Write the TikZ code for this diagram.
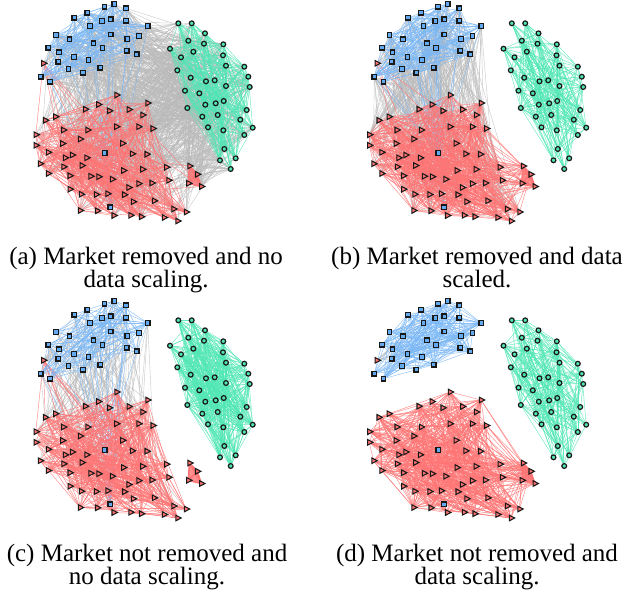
\documentclass[tikz,border=0pt]{standalone}
\usepackage{fontspec}
\setmainfont{Liberation Serif}
\usetikzlibrary{shapes.geometric}
\pgfdeclarelayer{edges}
\pgfsetlayers{edges,main}
\definecolor{bfill}{HTML}{64AAF0}
\definecolor{bedge}{HTML}{78B6F6}
\definecolor{gfill}{HTML}{4FE6B4}
\definecolor{gedge}{HTML}{4FE6B4}
\definecolor{rfill}{HTML}{FF7272}
\definecolor{redge}{HTML}{FF7474}
\definecolor{xedge}{HTML}{B9B9B9}
\def\bluelist{104.5/6.7, 114.2/4, 125.8/8.3, 74.3/17.7, 87.3/12.7, 101.8/21, 110.7/19.3, 125.8/20.7, 90/26, 147.7/26, 139/36, 56/35, 69.5/39.3, 110.7/34.5, 127.3/39, 93.5/43.3, 102.5/48, 48.3/47.7, 59/52.3, 126.7/50.7, 136.7/54.3, 74/57, 88.5/60, 58.2/61.7, 68.5/69, 82.8/72.7, 100.2/67.7, 40.7/76.7, 50/81.7, 104.7/153, 110.3/207.3}
\def\greenlist{178.3/23.3, 191.7/23.3, 205/33.3, 188.3/40.7, 204/43.7, 223.3/44.3, 170/48.7, 193.3/51.7, 223/55.3, 181/57.3, 226/65.7, 244.3/66.7, 177.3/70.3, 248.3/76.7, 190.7/77.7, 206/81.3, 214.7/80.3, 226/86, 249.7/87, 185/90.7, 199.3/93.3, 205.3/104.7, 215.7/103.3, 223.7/101, 187.3/108, 246.7/110, 217.7/115, 202.3/116.7, 240.3/119.7, 252.7/127.7, 208/127.3, 223.3/130.3, 244.3/135, 224.3/149, 235.7/158.3, 220/160.3, 230.7/169}
\def\redlist{116.5/95, 98.3/104.5, 147.5/103, 85.2/109.2, 109.2/110.8, 128.8/109.5, 142.5/115, 55.3/116.7, 45.2/120.3, 116.3/126.7, 138.5/126.7, 152.7/128.5, 63.2/130, 87.5/130, 35.8/134.7, 80/139, 35.8/145.3, 62.3/143.5, 122.3/143.3, 48/152.3, 65/157.8, 72/155, 86.5/157.8, 132/153.8, 146.7/154.2, 40/163.7, 63.5/166.8, 81.8/165.5, 48/173.5, 69.7/175.7, 90.5/176.2, 98.5/176.7, 112/179.2, 123.3/170.5, 142.3/169.3, 166.3/167.2, 168.5/180.3, 138.5/183.6, 151.7/183, 69.8/189.2, 81/194.2, 96/194.5, 107.5/193.7, 124.2/194.7, 128.5/187.5, 133/201.7, 154/200.8, 80/210.5, 97.2/210.8, 113.7/215.5, 130.5/215.3, 141.2/216.7, 164/217.5, 173.5/209, 186/212, 177.5/221, 43.3/63.3}
\def\smalllist{189.5/166, 197.2/174.3, 188.3/183.3, 201.3/186.5}
\tikzset{
  bnode/.style={rectangle, draw=black!90, line width=1.2pt, fill=bfill, minimum size=4.6pt, inner sep=0pt},
  gnode/.style={circle, draw=black!90, line width=1.2pt, fill=gfill, minimum size=4.8pt, inner sep=0pt},
  rnode/.style={isosceles triangle, isosceles triangle stretches, draw=black!90, line width=1.05pt, fill=rfill, minimum width=5.6pt, minimum height=5.4pt, inner sep=0pt},
  xl/.style={xedge, line width=0.45pt, opacity=0.75},
  bl/.style={bedge, line width=0.45pt, opacity=0.85},
  gl/.style={gedge, line width=0.45pt, opacity=0.85},
  rl/.style={redge, line width=0.45pt, opacity=0.85},
  kl/.style={redge, line width=1.6pt, line join=round},
  captext/.style={font=\fontsize{25}{22}\selectfont, inner sep=0pt, anchor=base}
}
% links among the nodes of one group
\newcommand\intralinks[5]{%
  \foreach \ii in {#2,...,#3}{%
    \foreach \jj in {\ii,...,#3}{%
      \ifnum\jj>\ii\relax
        \pgfmathsetmacro\rr{rnd}%
        \ifdim\rr pt<#4pt\relax \draw[#5] (#1\ii) -- (#1\jj);\fi
      \fi}}}
% links between two groups
\newcommand\crosslinks[8]{%
  \foreach \ii in {#2,...,#3}{%
    \foreach \jj in {#5,...,#6}{%
      \pgfmathsetmacro\rr{rnd}%
      \ifdim\rr pt<#7pt\relax \draw[#8] (#1\ii) -- (#4\jj);\fi}}}
\newcommand\panelnodes[3]{%
  \foreach \x/\y [count=\n] in \bluelist {\node[bnode] (#1b\n) at (\x+#2,\y+#3) {};}
  \foreach \x/\y [count=\n] in \greenlist {\node[gnode] (#1g\n) at (\x+#2,\y+#3) {};}
  \foreach \x/\y [count=\n] in \redlist {\node[rnode] (#1r\n) at (\x+#2,\y+#3) {};}
  \foreach \x/\y [count=\n] in \smalllist {\node[rnode] (#1k\n) at (\x+#2,\y+#3) {};}
}
\newcommand\smallgroup[1]{%
  \draw[kl] (#1k1.center) -- (#1k2.center) -- (#1k4.center) -- (#1k3.center) -- cycle;
  \draw[kl] (#1k1.center) -- (#1k4.center) (#1k2.center) -- (#1k3.center);
  \fill[redge, opacity=0.8] (#1k1.center) -- (#1k2.center) -- (#1k4.center) -- (#1k3.center) -- cycle;
}
\begin{document}
\begin{tikzpicture}[x=1pt,y=-1pt]
\useasboundingbox (0,0) rectangle (628,592);
\panelnodes{a}{0}{0}
\panelnodes{b}{333.5}{0}
\panelnodes{c}{0}{297}
\panelnodes{d}{333.5}{297}
\begin{pgfonlayer}{edges}
% panel (a)
\pgfmathsetseed{11}
\crosslinks{ab}{1}{29}{ar}{1}{56}{0.10}{xl}
\crosslinks{ag}{1}{37}{ar}{1}{56}{0.14}{xl}
\crosslinks{ag}{1}{37}{ab}{1}{29}{0.16}{xl}
\crosslinks{ag}{1}{37}{ak}{1}{4}{0.4}{xl}
\crosslinks{ab}{1}{29}{ak}{1}{4}{0.05}{xl}
\crosslinks{ar}{57}{57}{ab}{1}{29}{0.3}{xl}
\crosslinks{ab}{30}{31}{ar}{1}{56}{0.2}{xl}
\crosslinks{ab}{30}{31}{ag}{1}{37}{0.3}{xl}
\crosslinks{ab}{30}{31}{ab}{1}{29}{0.15}{bl}
\crosslinks{ar}{57}{57}{ar}{1}{56}{0.15}{rl}
\intralinks{ab}{1}{29}{0.4}{bl}
\intralinks{ag}{1}{37}{0.38}{gl}
\intralinks{ar}{1}{56}{0.3}{rl}
\smallgroup{a}
\crosslinks{ak}{1}{4}{ar}{1}{56}{0.03}{rl}
% panel (b)
\pgfmathsetseed{23}
\crosslinks{bb}{1}{29}{br}{1}{56}{0.17}{xl}
\crosslinks{bb}{30}{31}{br}{1}{56}{0.15}{xl}
\crosslinks{br}{57}{57}{bb}{1}{29}{0.3}{xl}
\crosslinks{bb}{30}{31}{bb}{1}{29}{0.4}{bl}
\crosslinks{br}{57}{57}{br}{1}{56}{0.1}{rl}
\intralinks{bb}{1}{29}{0.5}{bl}
\intralinks{bg}{1}{37}{0.33}{gl}
\intralinks{br}{1}{56}{0.38}{rl}
\smallgroup{b}
\crosslinks{bk}{1}{4}{br}{1}{56}{0.25}{rl}
% panel (c)
\pgfmathsetseed{37}
\crosslinks{cb}{1}{29}{cr}{1}{56}{0.06}{xl}
\crosslinks{cb}{30}{31}{cr}{1}{56}{0.15}{xl}
\crosslinks{cr}{57}{57}{cb}{1}{29}{0.3}{xl}
\crosslinks{cb}{30}{31}{cb}{1}{29}{0.3}{bl}
\crosslinks{cr}{57}{57}{cr}{1}{56}{0.15}{rl}
\intralinks{cb}{1}{29}{0.4}{bl}
\intralinks{cg}{1}{37}{0.55}{gl}
\intralinks{cr}{1}{56}{0.3}{rl}
\smallgroup{c}
% panel (d)
\pgfmathsetseed{41}
\crosslinks{db}{30}{31}{dr}{1}{56}{0.12}{xl}
\crosslinks{dr}{57}{57}{db}{1}{29}{0.4}{xl}
\intralinks{db}{1}{29}{0.55}{bl}
\intralinks{dg}{1}{37}{0.38}{gl}
\intralinks{dr}{1}{56}{0.38}{rl}
\smallgroup{d}
\crosslinks{dk}{1}{4}{dr}{1}{56}{0.3}{rl}
\end{pgfonlayer}
% captions
\node[captext] (capa1) at (146,264.7) {(a) Market removed and no};
\node[captext] (capa2) at (146,287.3) {data scaling.};
\node[captext] (capb1) at (477,264.7) {(b) Market removed and data};
\node[captext] (capb2) at (477,287.3) {scaled.};
\node[captext] (capc1) at (147,561.7) {(c) Market not removed and};
\node[captext] (capc2) at (147,584.3) {no data scaling.};
\node[captext] (capd1) at (477,561.7) {(d) Market not removed and};
\node[captext] (capd2) at (477,584.3) {data scaling.};
\end{tikzpicture}
\end{document}
